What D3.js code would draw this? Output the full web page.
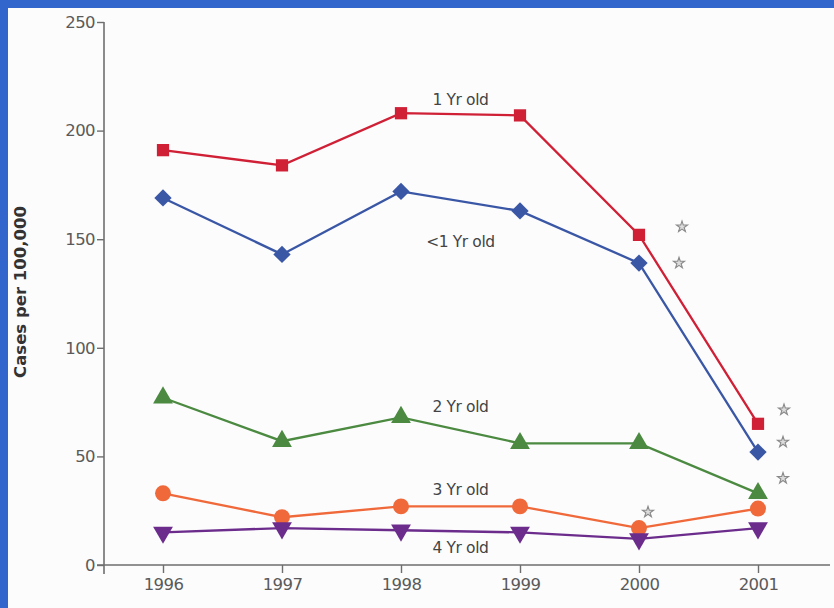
<!DOCTYPE html>
<html>
<head>
<meta charset="utf-8">
<script src="https://cdn.jsdelivr.net/npm/d3@7"></script>
<style>
  html, body { margin: 0; padding: 0; background: #3366cc; }
  svg { display: block; }
</style>
</head>
<body>
<svg id="chart" width="834" height="608"></svg>
<script>
// Invasive pneumococcal disease rates by age group
const years = [1996, 1997, 1998, 1999, 2000, 2001];
const yTicks = [0, 50, 100, 150, 200, 250];

const oneYr    = [191, 184, 208, 207, 152, 65];
const underOne = [169, 143, 172, 163, 139, 52];
const twoYr    = [77, 57, 68, 56, 56, 33];
const threeYr  = [33, 22, 27, 27, 17, 26];
const fourYr   = [15, 17, 16, 15, 12, 17];

const seriesNames = ["1 Yr old", "<1 Yr old", "2 Yr old", "3 Yr old", "4 Yr old"];
// years flagged as significantly different, per series
const flagged = [[2000, 2001], [2000, 2001], [2001], [2000], []];

const seriesData = [oneYr, underOne, twoYr, threeYr, fourYr];
const colors = ["#cf2036", "#3a57a6", "#4b8a40", "#f0693a", "#6b2c8c"];
const symbols = [d3.symbolSquare, d3.symbolSquare, d3.symbolTriangle, d3.symbolCircle, d3.symbolTriangle];
const symbolSizes = [150, 150, 170, 200, 170];
const symbolRot = [0, 45, 0, 0, 180];

const svg = d3.select("#chart");
// page area inside the blue frame
svg.append("rect").attr("x", 8).attr("y", 8).attr("width", 826).attr("height", 600).attr("fill", "#fcfcfd");

const x = d3.scalePoint().domain(years).range([163, 758]);
const y = d3.scaleLinear().domain([0, 250]).range([565, 22]);

const axisColor = "#6e6e6e";
const font = "'DejaVu Sans', Verdana, sans-serif";

// y axis
const yAxis = svg.append("g").attr("transform", "translate(104,0)")
  .call(d3.axisLeft(y).tickValues(yTicks).tickSize(7).tickPadding(2).tickFormat(d3.format("d")));
yAxis.select(".domain").attr("d", "M0,22V574");
// x axis
const xAxis = svg.append("g").attr("transform", "translate(0,565)")
  .call(d3.axisBottom(x).tickSize(8).tickPadding(5).tickFormat(d3.format("d")));
xAxis.select(".domain").attr("d", "M97,0H830");

svg.selectAll(".domain").attr("stroke", axisColor).attr("stroke-width", 1.6).attr("fill", "none");
svg.selectAll(".tick line").attr("stroke", axisColor).attr("stroke-width", 1.4);
svg.selectAll(".tick text").attr("fill", "#5a5a5a").attr("font-family", font)
  .attr("font-size", 16.5).attr("letter-spacing", -0.6);

// y title
svg.append("text")
  .attr("transform", "translate(26,292) rotate(-90)")
  .attr("text-anchor", "middle")
  .attr("font-family", font).attr("font-size", 16.5).attr("font-weight", "bold")
  .attr("fill", "#333")
  .text("Cases per 100,000");

const line = d3.line().x((d, i) => x(years[i])).y(d => y(d));

seriesData.forEach((vals, s) => {
  svg.append("path").datum(vals)
    .attr("d", line).attr("fill", "none")
    .attr("stroke", colors[s]).attr("stroke-width", 2.3);
});

seriesData.forEach((vals, s) => {
  svg.append("g").selectAll("path").data(vals).join("path")
    .attr("d", d3.symbol().type(symbols[s]).size(symbolSizes[s]))
    .attr("transform", (d, i) => `translate(${x(years[i])},${y(d)}) rotate(${symbolRot[s]})`)
    .attr("fill", colors[s]);
});

// series labels, placed between 1998 and 1999
const labelOffsets = [-8, 56, -5, -11, 23];
seriesData.forEach((vals, s) => {
  svg.append("text")
    .attr("x", (x(1998) + x(1999)) / 2).attr("y", y(vals[2]) + labelOffsets[s])
    .attr("text-anchor", "middle")
    .attr("font-family", font).attr("font-size", 15.5).attr("letter-spacing", -0.4)
    .attr("fill", "#444")
    .text(seriesNames[s]);
});

// significance stars
const starOffsets = {
  "0-2000": [43, -8], "1-2000": [40, 0],
  "0-2001": [26, -14], "1-2001": [25, -10], "2-2001": [25, -15],
  "3-2000": [9, -16]
};
flagged.forEach((ys, s) => {
  ys.forEach(yr => {
    const idx = years.indexOf(yr);
    const off = starOffsets[s + "-" + yr];
    svg.append("path")
      .attr("d", d3.symbol().type(d3.symbolStar).size(38)())
      .attr("transform", `translate(${x(yr) + off[0]},${y(seriesData[s][idx]) + off[1]})`)
      .attr("fill", "#dcdcdc").attr("stroke", "#8a8a8a").attr("stroke-width", 1.1);
  });
});
</script>
</body>
</html>
